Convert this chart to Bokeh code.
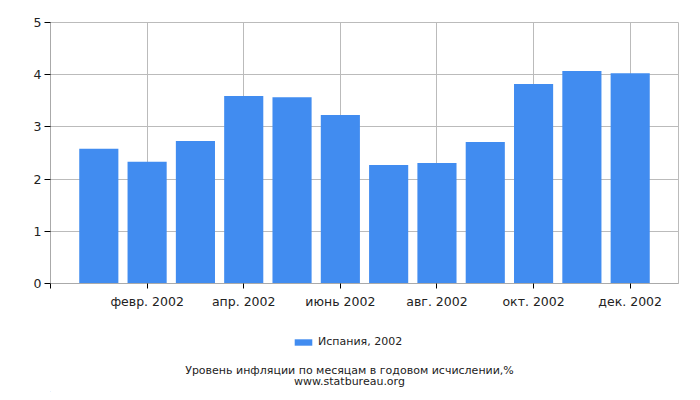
from bokeh.plotting import figure
from bokeh.layouts import column
from bokeh.models import Range1d, FixedTicker, Legend, LegendItem, Label
from bokeh.embed import file_html
from bokeh.resources import INLINE

# month index (1 = Jan 2002 ... 12 = Dec 2002) and yearly inflation values
months = [1, 2, 3, 4, 5, 6, 7, 8, 9, 10, 11, 12]
values = [2.58, 2.33, 2.73, 3.59, 3.57, 3.23, 2.27, 2.31, 2.71, 3.82, 4.07, 4.03]
tick_pos = [0, 2, 4, 6, 8, 10, 12]
tick_labels = ["", "февр. 2002", "апр. 2002", "июнь 2002", "авг. 2002", "окт. 2002", "дек. 2002"]
y_ticks = [0, 1, 2, 3, 4, 5]
series_name = "Испания, 2002"
title_text = "Уровень инфляции по месяцам в годовом исчислении,%"
source_text = "www.statbureau.org"

FONT = "DejaVu Sans"
BLUE = "#418cf0"
TEXT = "#222222"
W = 684

p = figure(width=W, height=312, output_backend="svg", toolbar_location=None,
           x_range=Range1d(0, 13), y_range=Range1d(0, 5),
           min_border_left=50, min_border_right=6, min_border_top=22,
           min_border_bottom=29)

bars = p.vbar(x=months, top=values, width=0.81, color=BLUE, line_color=None)

p.outline_line_color = "#bbbbbb"

p.xaxis.ticker = FixedTicker(ticks=tick_pos)
p.xaxis.major_label_overrides = {t: l for t, l in zip(tick_pos, tick_labels)}
p.yaxis.ticker = FixedTicker(ticks=y_ticks)
p.xaxis.minor_tick_line_color = None
p.yaxis.minor_tick_line_color = None
for ax in (p.xaxis, p.yaxis):
    ax.axis_line_color = "#aaaaaa"
    ax.major_tick_line_color = "black"
    ax.major_tick_in = 0
    ax.major_label_text_font = FONT
    ax.major_label_text_font_size = "12.5px"
    ax.major_label_text_color = TEXT
p.xaxis.major_tick_out = 5
p.xaxis.major_label_standoff = 5
p.yaxis.major_tick_out = 6
p.yaxis.major_label_standoff = 3

p.xgrid.grid_line_color = "#bbbbbb"
p.ygrid.grid_line_color = "#bbbbbb"

# strip under the chart with the legend and the caption; the column aligns
# its frame with the chart's frame, so x runs in page pixels 50..678
H2 = 80
p2 = figure(width=W, height=H2, output_backend="svg", toolbar_location=None,
            x_range=Range1d(50, 678), y_range=Range1d(0, H2),
            x_axis_location=None, y_axis_location=None,
            min_border_left=50, min_border_right=6, min_border_top=0,
            min_border_bottom=0)
p2.outline_line_color = None
p2.grid.visible = False
# off-range stand-in so the legend has a bar glyph to draw its swatch from
swatch = p2.vbar(x=[0], top=[1], width=1, color=BLUE, line_color=None)

legend = Legend(items=[LegendItem(label=series_name, renderers=[swatch])],
                location=(242, 44),
                label_text_font=FONT, label_text_font_size="11px",
                label_text_color=TEXT, glyph_width=22, glyph_height=8,
                label_height=8, label_standoff=4, padding=0, margin=0,
                border_line_color=None, background_fill_alpha=0)
p2.add_layout(legend)

for txt, y in ((title_text, 22), (source_text, 11)):
    p2.add_layout(Label(x=349, y=y, text=txt,
                        text_align="center", text_baseline="middle",
                        text_font=FONT, text_font_size="11px", text_color=TEXT))

open("out.html", "w").write(file_html(column(p, p2, spacing=0), INLINE))
